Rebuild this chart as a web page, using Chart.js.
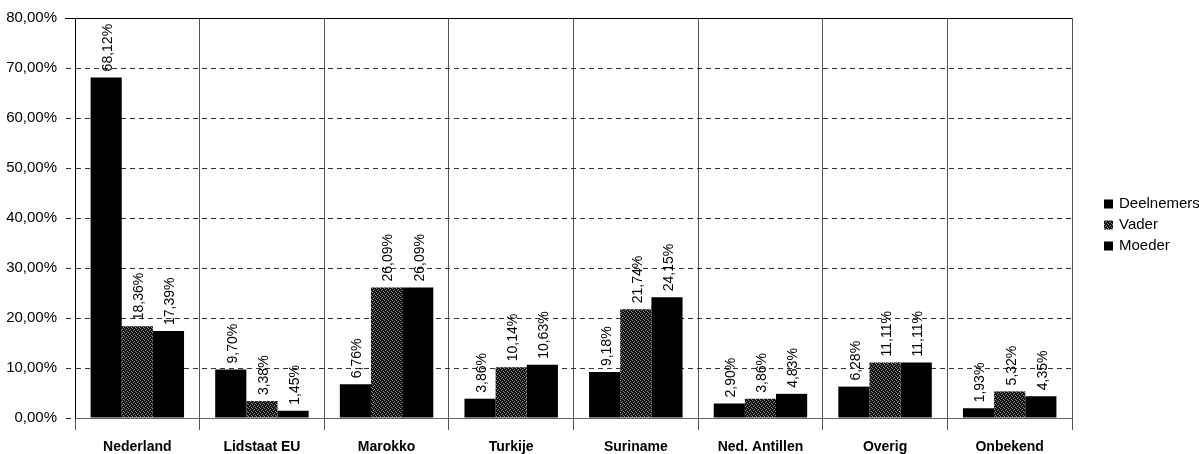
<!DOCTYPE html>
<html>
<head>
<meta charset="utf-8">
<script src="https://cdn.jsdelivr.net/npm/chart.js@4/dist/chart.umd.min.js"></script>
<style>
  html, body { margin: 0; padding: 0; background: #fff; }
  #chart { display: block; }
</style>
</head>
<body>
<canvas id="chart" width="1199" height="454"></canvas>
<script>
const categories = ['Nederland', 'Lidstaat EU', 'Marokko', 'Turkije', 'Suriname', 'Ned. Antillen', 'Overig', 'Onbekend'];
const seriesNames = ['Deelnemers', 'Vader', 'Moeder'];
const deelnemers = [68.12, 9.70, 6.76, 3.86, 9.18, 2.90, 6.28, 1.93];
const vader = [18.36, 3.38, 26.09, 10.14, 21.74, 3.86, 11.11, 5.32];
const moeder = [17.39, 1.45, 26.09, 10.63, 24.15, 4.83, 11.11, 4.35];

const fmt = v => v.toFixed(2).replace('.', ',') + '%';

// dithered dark grey fill, like the scanned "Vader" bars
function makePattern() {
    const c = document.createElement('canvas');
    c.width = 4; c.height = 4;
    const g = c.getContext('2d');
    g.fillStyle = '#111';
    g.fillRect(0, 0, 4, 4);
    g.fillStyle = '#8a8a8a';
    g.fillRect(0, 0, 1, 1);
    g.fillRect(2, 1, 1, 1);
    g.fillRect(1, 2, 1, 1);
    g.fillRect(3, 3, 1, 1);
    return g.createPattern(c, 'repeat');
}
const vaderFill = makePattern();

const valueLabels = {
    id: 'valueLabels',
    afterDatasetsDraw(chart) {
        const ctx = chart.ctx;
        ctx.save();
        ctx.font = '14px "Liberation Sans", Arial, sans-serif';
        ctx.fillStyle = '#000';
        ctx.textAlign = 'left';
        ctx.textBaseline = 'middle';
        chart.data.datasets.forEach((ds, i) => {
            chart.getDatasetMeta(i).data.forEach((bar, j) => {
                ctx.save();
                ctx.translate(bar.x + 2, bar.y - 6);
                ctx.rotate(-Math.PI / 2);
                ctx.fillText(fmt(ds.data[j]), 0, 0);
                ctx.restore();
            });
        });
        ctx.restore();
    }
};

const frameAndLegend = {
    id: 'frameAndLegend',
    afterDraw(chart) {
        const ctx = chart.ctx;
        const a = chart.chartArea;
        ctx.save();
        ctx.strokeStyle = '#000';
        ctx.lineWidth = 1;
        ctx.beginPath();
        ctx.moveTo(a.left - 10, a.top + 0.5);
        ctx.lineTo(a.right, a.top + 0.5);
        ctx.stroke();
        ctx.strokeStyle = '#555';
        ctx.beginPath();
        ctx.moveTo(a.right + 0.5, a.top);
        ctx.lineTo(a.right + 0.5, a.bottom + 12);
        ctx.stroke();

        // legend
        ctx.font = '15px "Liberation Sans", Arial, sans-serif';
        ctx.textBaseline = 'middle';
        chart.data.datasets.forEach((ds, i) => {
            const y = 204 + i * 21;
            ctx.fillStyle = ds.backgroundColor;
            ctx.fillRect(1104, y - 4.5, 9, 9);
            ctx.fillStyle = '#000';
            ctx.fillText(ds.label, 1119, y);
        });
        ctx.restore();
    }
};

new Chart(document.getElementById('chart'), {
    type: 'bar',
    data: {
        labels: categories,
        datasets: [
            { label: seriesNames[0], data: deelnemers, backgroundColor: '#000' },
            { label: seriesNames[1], data: vader, backgroundColor: vaderFill },
            { label: seriesNames[2], data: moeder, backgroundColor: '#000' }
        ]
    },
    options: {
        responsive: false,
        animation: false,
        categoryPercentage: 0.75,
        barPercentage: 1.0,
        layout: { padding: { top: 18, right: 127, left: 0, bottom: 0 } },
        plugins: {
            legend: { display: false },
            tooltip: { enabled: false }
        },
        scales: {
            x: {
                afterFit: s => { s.height = 36; },
                grid: {
                    offset: true,
                    color: '#555',
                    tickColor: '#555',
                    tickLength: 12
                },
                border: { display: true, color: '#666', width: 1 },
                ticks: {
                    color: '#000',
                    padding: 9,
                    font: { family: '"Liberation Sans", Arial, sans-serif', size: 14, weight: 'bold' }
                }
            },
            y: {
                min: 0,
                max: 80,
                afterFit: s => { s.width = 75; },
                grid: {
                    color: '#333',
                    tickColor: '#333',
                    tickLength: 9,
                    tickBorderDash: [5, 4]
                },
                border: { display: true, color: '#000', width: 1, dash: [5, 4] },
                ticks: {
                    stepSize: 10,
                    color: '#000',
                    padding: 9,
                    font: { family: '"Liberation Sans", Arial, sans-serif', size: 15 },
                    callback: v => fmt(v)
                }
            }
        }
    },
    plugins: [valueLabels, frameAndLegend]
});
</script>
</body>
</html>
